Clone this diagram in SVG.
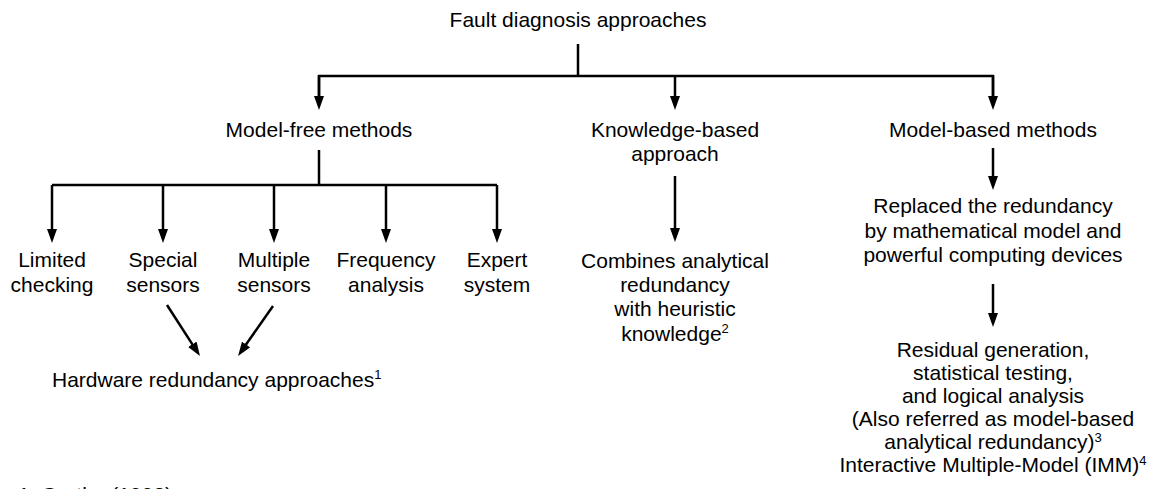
<svg xmlns="http://www.w3.org/2000/svg" width="1154" height="489" viewBox="0 0 1154 489">
<style>
text{font-family:"Liberation Sans",Arial,Helvetica,sans-serif;font-size:21px;fill:#000;text-anchor:middle}
.s{font-size:13px}
line,polyline{stroke:#000;stroke-width:2.5;fill:none}
</style>
<defs>
<marker id="ah" viewBox="0 0 14 10" markerWidth="14" markerHeight="10" refX="1" refY="5" orient="auto" markerUnits="userSpaceOnUse">
<path d="M0,0 L14,5 L0,10 z" fill="#000"/>
</marker>
</defs>
<rect width="1154" height="489" fill="#fff"/>
<g id="connectors">
<line x1="578" y1="44" x2="578" y2="76"/>
<polyline points="319,97 319,76 993,76 993,97"/>
<line x1="319" y1="76" x2="319" y2="97" marker-end="url(#ah)"/>
<line x1="675" y1="76" x2="675" y2="97" marker-end="url(#ah)"/>
<line x1="993" y1="76" x2="993" y2="97" marker-end="url(#ah)"/>
<line x1="319" y1="150" x2="319" y2="185"/>
<line x1="52" y1="185" x2="497" y2="185"/>
<line x1="52" y1="185" x2="52" y2="230" marker-end="url(#ah)"/>
<line x1="163" y1="185" x2="163" y2="230" marker-end="url(#ah)"/>
<line x1="274" y1="185" x2="274" y2="230" marker-end="url(#ah)"/>
<line x1="386" y1="185" x2="386" y2="230" marker-end="url(#ah)"/>
<line x1="497" y1="185" x2="497" y2="230" marker-end="url(#ah)"/>
<line x1="167" y1="305" x2="192.9" y2="345.1" marker-end="url(#ah)"/>
<line x1="273" y1="306" x2="245.5" y2="345.3" marker-end="url(#ah)"/>
<line x1="675" y1="176" x2="675" y2="229" marker-end="url(#ah)"/>
<line x1="993" y1="148" x2="993" y2="177" marker-end="url(#ah)"/>
<line x1="993" y1="284" x2="993" y2="314" marker-end="url(#ah)"/>
</g>
<g id="root"><text x="578" y="27">Fault diagnosis approaches</text></g>
<g id="model-free"><text x="319" y="137">Model-free methods</text></g>
<g id="knowledge"><text x="675" y="137">Knowledge-based</text><text x="675" y="161">approach</text></g>
<g id="model-based"><text x="993" y="137">Model-based methods</text></g>
<g id="limited"><text x="52" y="267">Limited</text><text x="52" y="292">checking</text></g>
<g id="special"><text x="163" y="267">Special</text><text x="163" y="292">sensors</text></g>
<g id="multiple"><text x="274" y="267">Multiple</text><text x="274" y="292">sensors</text></g>
<g id="frequency"><text x="386" y="267">Frequency</text><text x="386" y="292">analysis</text></g>
<g id="expert"><text x="497" y="267">Expert</text><text x="497" y="292">system</text></g>
<g id="hardware"><text x="52" y="387" style="text-anchor:start">Hardware redundancy approaches<tspan class="s" dy="-8">1</tspan></text></g>
<g id="combines"><text x="675" y="268">Combines analytical</text><text x="675" y="292">redundancy</text><text x="675" y="316">with heuristic</text><text x="675" y="341">knowledge<tspan class="s" dy="-8">2</tspan></text></g>
<g id="replaced"><text x="993" y="213">Replaced the redundancy</text><text x="993" y="238">by mathematical model and</text><text x="993" y="262">powerful computing devices</text></g>
<g id="residual"><text x="993" y="357">Residual generation,</text><text x="993" y="380">statistical testing,</text><text x="993" y="403">and logical analysis</text><text x="993" y="426">(Also referred as model-based</text><text x="993" y="449">analytical redundancy)<tspan class="s" dy="-7">3</tspan></text><text x="993" y="472">Interactive Multiple-Model (IMM)<tspan class="s" dy="-7">4</tspan></text></g>
<g id="footnote"><text x="18" y="502" style="text-anchor:start">1. Gertler (1998)</text></g>
</svg>
